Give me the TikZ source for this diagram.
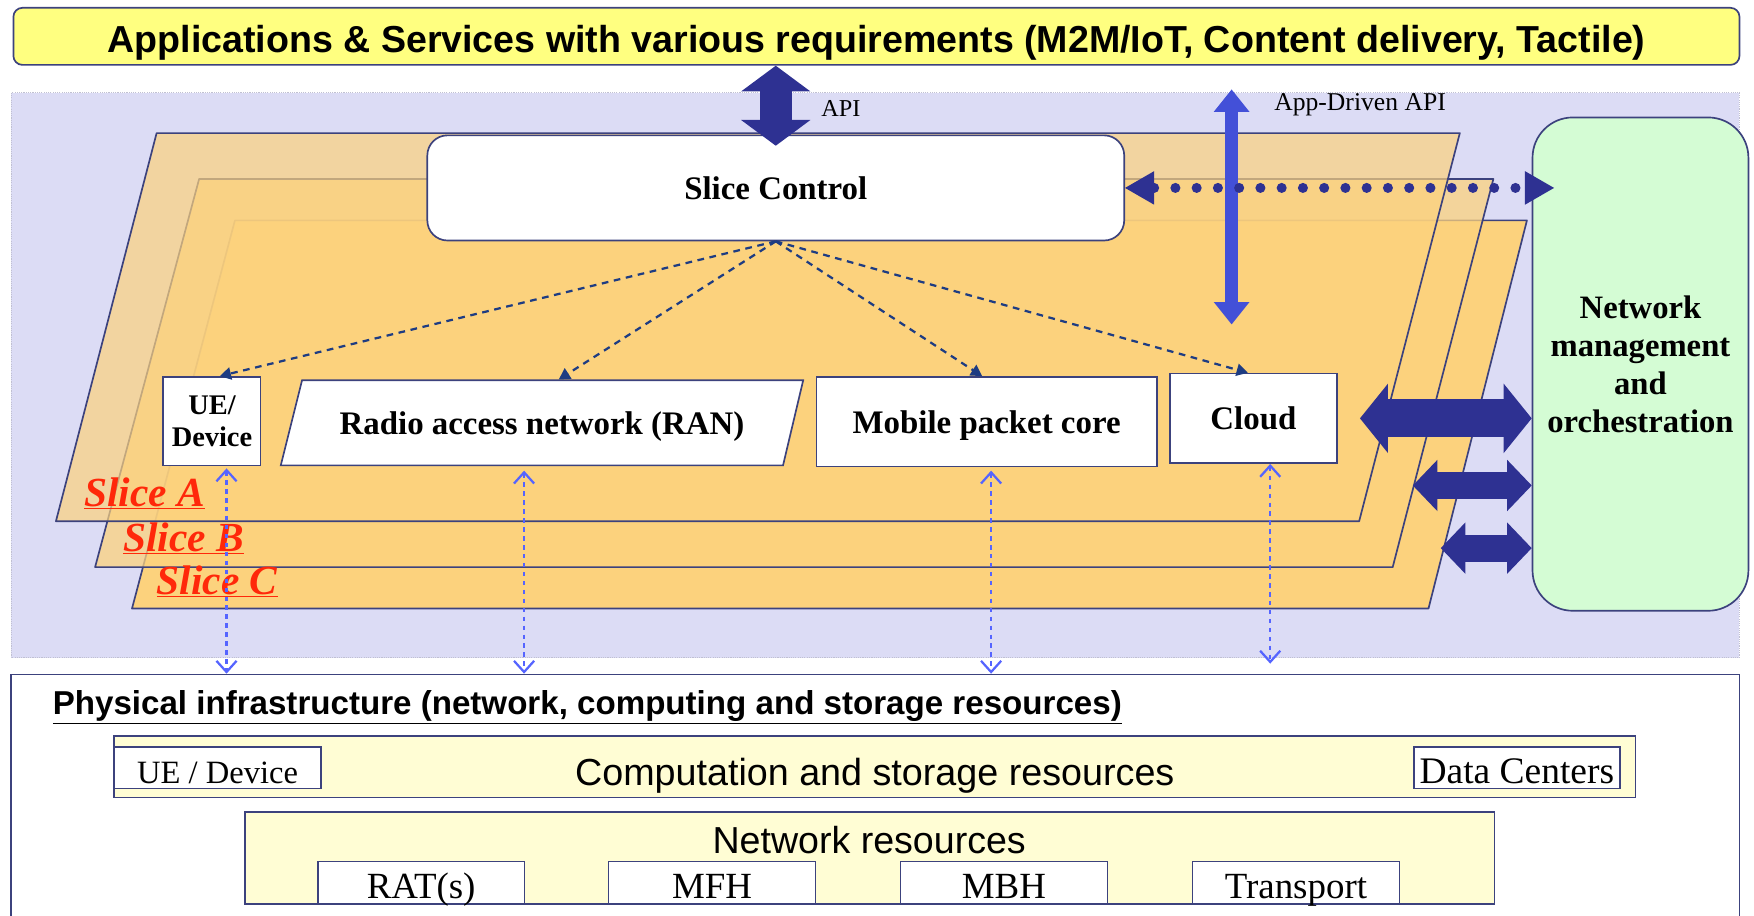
\documentclass[tikz,border=0pt]{standalone}
\usepackage{fontspec}
\setmainfont{Liberation Serif}
\setsansfont{Liberation Sans}
\usetikzlibrary{arrows.meta,calc}

\definecolor{appyellow}{RGB}{255,255,128}
\definecolor{planebg}{RGB}{220,220,245}
\definecolor{slicefill}{RGB}{252,210,125}
\definecolor{boxline}{RGB}{60,66,125}
\definecolor{navyarrow}{RGB}{46,49,146}
\definecolor{apiblue}{RGB}{67,80,216}
\definecolor{linkblue}{RGB}{85,100,255}
\definecolor{dashnavy}{RGB}{30,60,130}
\definecolor{nmogreen}{RGB}{212,252,212}
\definecolor{paleyellow}{RGB}{255,253,212}
\definecolor{slicered}{RGB}{255,40,10}

\tikzset{
  layerbox/.style={draw=boxline, line width=1.5pt, rounded corners=8pt, inner sep=0pt},
  comp/.style={draw=boxline, line width=1.5pt, fill=white, inner sep=0pt, text depth=0pt,
    font=\bfseries\fontsize{29.4}{34}\selectfont},
  resbox/.style={draw=boxline, line width=1.5pt, fill=white, inner sep=0pt,
    text height=27pt, text depth=0pt, font=\fontsize{33}{36}\selectfont},
  sliceedge/.style={draw=boxline, line width=1.5pt, line join=round},
  slicelabel/.style={anchor=west, text=slicered, inner sep=0pt,
    font=\bfseries\itshape\fontsize{37}{40}\selectfont},
  apiarrow/.style={draw=navyarrow, line width=29pt,
    {Triangle[width=62pt,length=23pt,line width=0pt]}-{Triangle[width=62pt,length=23pt,line width=0pt]}},
  appapiarrow/.style={draw=apiblue, line width=12pt,
    {Triangle[width=32pt,length=20pt,line width=0pt]}-{Triangle[width=32pt,length=20pt,line width=0pt]}},
  nmoarrow/.style={draw=navyarrow, line width=34pt,
    {Triangle[width=62pt,length=25pt,line width=0pt]}-{Triangle[width=62pt,length=25pt,line width=0pt]}},
  nmoarrowsmall/.style={draw=navyarrow, line width=24pt,
    {Triangle[width=46pt,length=22pt,line width=0pt]}-{Triangle[width=46pt,length=22pt,line width=0pt]}},
  mgmtlink/.style={draw=navyarrow, line width=9pt, line cap=round, dash pattern=on 0pt off 19pt,
    {Triangle[width=30pt,length=26pt,line width=0pt]}-{Triangle[width=30pt,length=26pt,line width=0pt]}},
  ctrlarrow/.style={draw=dashnavy, line width=2pt, dash pattern=on 6pt off 5pt,
    -{Triangle[width=11pt,length=10pt]}},
  maplink/.style={draw=linkblue, line width=2pt, dash pattern=on 4pt off 4pt,
    {Straight Barb[width=18pt,length=10pt]}-{Straight Barb[width=18pt,length=10pt]}}
}

\begin{document}
\begin{tikzpicture}[x=1pt,y=-1pt]
  \useasboundingbox (0,0) rectangle (1568,818);
  \clip (0,0) rectangle (1568,818);

  % application layer
  \node[layerbox, fill=appyellow, minimum width=1543pt, minimum height=51pt, text height=28pt, text depth=0pt,
    font=\sffamily\bfseries\fontsize{33.6}{38}\selectfont] (apps) at (783.5,32.5)
    {Applications \& Services with various requirements (M2M/IoT, Content delivery, Tactile)};

  % physical infrastructure frame
  \node[draw=boxline, line width=1.5pt, fill=white, minimum width=1545pt, minimum height=227pt,
    inner sep=0pt] (phys) at (782.5,716.5) {};
  \node[anchor=west, inner sep=0pt, font=\sffamily\bfseries\fontsize{29.6}{32}\selectfont] (phys-title)
    at (47,632) {\underline{Physical infrastructure (network, computing and storage resources)}};

  % slice plane
  \fill[planebg] (10,83) rectangle (1555,588);
  \draw[planebg!70!gray, line width=1pt, densely dotted] (10,83) rectangle (1555,588);

  % slices, back to front
  \draw[sliceedge, fill=slicefill] (210,197) -- (1365,197) -- (1277,544) -- (118,544) -- cycle;
  \draw[sliceedge, fill=slicefill, fill opacity=0.75] (178,160) -- (1335,160) -- (1245,507) -- (85,507) -- cycle;
  \draw[sliceedge, fill=slicefill, fill opacity=0.7] (140,119) -- (1305,119) -- (1215,466) -- (50,466) -- cycle;

  \node[slicelabel] (slice-a) at (75,441) {\underline{Slice A}};
  \node[slicelabel] (slice-b) at (110,481) {\underline{Slice B}};
  \node[slicelabel] (slice-c) at (140,520) {\underline{Slice C}};

  % slice control and slice components
  \node[comp, rounded corners=18pt, minimum width=623pt, minimum height=94pt] (ctrl) at (693.5,168) {Slice Control};
  \node[comp, minimum width=87pt, minimum height=79pt, align=center,
    font=\bfseries\fontsize{25.4}{29}\selectfont] (ue) at (189.5,376.5) {UE/\\Device};
  \draw[comp] (270,340) -- (718,340) -- (700,416) -- (251,416) -- cycle;
  \node[comp, draw=none, fill=none, minimum width=449pt, minimum height=76pt] (ran) at (484.5,378)
    {Radio access network (RAN)};
  \node[comp, minimum width=304pt, minimum height=80pt] (core) at (882,377) {Mobile packet core};
  \node[comp, minimum width=149pt, minimum height=80pt] (cloud) at (1120.5,374) {Cloud};

  \draw[ctrlarrow] (ctrl.south) -- ([xshift=7pt]ue.north);
  \draw[ctrlarrow] (ctrl.south) -- ([xshift=15pt]ran.north);
  \draw[ctrlarrow] (ctrl.south) -- ([xshift=-4pt]core.north);
  \draw[ctrlarrow] (ctrl.south) -- ([xshift=-5pt]cloud.north);

  % management and orchestration
  \node[comp, fill=nmogreen, rounded corners=36pt, minimum width=193pt, minimum height=441pt, align=center,
    font=\bfseries\fontsize{29.2}{34}\selectfont] (nmo) at (1466.5,325.5)
    {Network\\management\\and\\orchestration};

  % APIs
  \draw[apiarrow] (apps.south -| ctrl.north) -- ($(ctrl.north)+(0,10)$);
  \node[anchor=west, inner sep=0pt, font=\fontsize{21.7}{24}\selectfont] (api-label) at (734,97) {API};

  \coordinate (appapi-top) at (1101,80);
  \coordinate (appapi-bot) at (1101,290);
  \draw[appapiarrow] (appapi-top) -- (appapi-bot);
  \node[anchor=west, inner sep=0pt, font=\fontsize{22.9}{25}\selectfont] (appapi-label) at (1139,94) {App-Driven API};

  \draw[mgmtlink] (ctrl.east) -- ($(nmo.west |- ctrl.east)+(20,0)$);

  \coordinate (slice-b-edge) at (1263,434);
  \coordinate (slice-c-edge) at (1288,490);
  \draw[nmoarrow] ([xshift=20pt]cloud.east) -- (nmo.west |- cloud.east);
  \draw[nmoarrowsmall] (slice-b-edge) -- (nmo.west |- slice-b-edge);
  \draw[nmoarrowsmall] (slice-c-edge) -- (nmo.west |- slice-c-edge);

  % mapping onto physical resources
  \coordinate (ue-link) at ($(ue.south)+(13,2)$);
  \coordinate (ran-link) at ($(ran.south)+(-16,4)$);
  \coordinate (core-link) at ($(core.south)+(4,3)$);
  \coordinate (cloud-link) at ($(cloud.south)+(15,0)$);
  \draw[maplink] (ue-link) -- (ue-link |- phys.north);
  \draw[maplink] (ran-link) -- (ran-link |- phys.north);
  \draw[maplink] (core-link) -- (core-link |- phys.north);
  \draw[maplink] (cloud-link) -- ($(cloud-link |- phys.north)+(0,-9)$);

  % physical resources
  \node[resbox, fill=paleyellow, minimum width=1360pt, minimum height=55pt, text height=33pt,
    font=\sffamily\fontsize{33.7}{36}\selectfont] (compute) at (782,685.5) {Computation and storage resources};
  \node[resbox, minimum width=185pt, minimum height=37pt, font=\fontsize{29.1}{32}\selectfont] (ue-res) at (194.5,686.5) {UE / Device};
  \node[resbox, minimum width=184pt, minimum height=37pt, font=\fontsize{33.5}{36}\selectfont] (dc) at (1356,686.5) {Data Centers};

  \node[resbox, fill=paleyellow, minimum width=1117pt, minimum height=82pt] (netres) at (777.5,767) {};
  \node[inner sep=0pt, font=\sffamily\fontsize{33.6}{36}\selectfont] (netres-label) at (777,751) {Network resources};
  \node[resbox, minimum width=185pt, minimum height=38pt, text height=28pt] (rat) at (376.5,789) {RAT(s)};
  \node[resbox, minimum width=185pt, minimum height=38pt, text height=28pt] (mfh) at (636.5,789) {MFH};
  \node[resbox, minimum width=185pt, minimum height=38pt, text height=28pt] (mbh) at (897.5,789) {MBH};
  \node[resbox, minimum width=185pt, minimum height=38pt, text height=28pt] (transport) at (1158.5,789) {Transport};
\end{tikzpicture}
\end{document}
